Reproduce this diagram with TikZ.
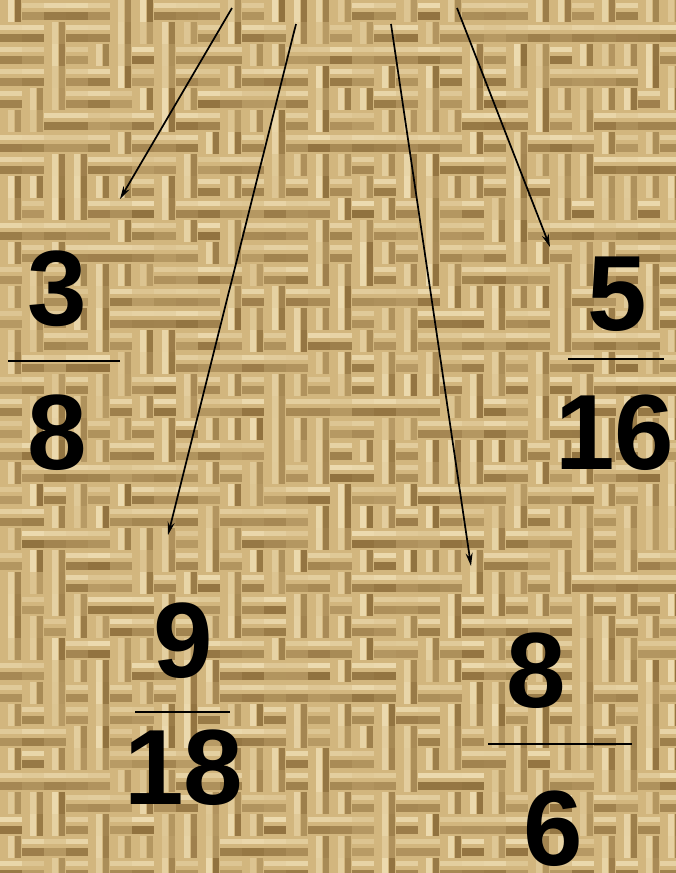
\documentclass[tikz,border=0pt]{standalone}
\usepackage{fontspec}
\setmainfont{Liberation Sans}
\usepackage{tikz}
\usetikzlibrary{arrows.meta,positioning,calc}
\definecolor{burlap}{HTML}{D2B67E}
\definecolor{weavedark}{HTML}{6E4E1E}
\definecolor{weavelite}{HTML}{FBEFCB}

\begin{document}
\begin{tikzpicture}[x=1pt, y=-1pt,
  num/.style={inner sep=0pt, font=\fontsize{107}{107}\selectfont\bfseries},
  bar/.style={line width=2pt},
  pointer/.style={line width=1.7pt, -{Stealth[length=13pt,width=7pt]}}]
  \useasboundingbox (0,0) rectangle (676,873);
  \clip (0,0) rectangle (676,873);
  % burlap background
  \fill[burlap] (0,0) rectangle (676,873);
  \pgfmathsetseed{11}
  \foreach \i in {0,...,30}{
    \foreach \j in {0,...,39}{
      \pgfmathsetmacro{\ra}{rnd}
      \pgfmathsetmacro{\op}{0.25+0.4*rnd}
      \ifdim\ra pt<0.55pt
        \fill[weavedark, opacity=\op] (\i*22,\j*22+12) rectangle ++(22,8);
        \fill[weavelite, opacity=\op] (\i*22,\j*22+3) rectangle ++(22,5);
      \else
        \fill[weavelite, opacity=\op] (\i*22+8,\j*22) rectangle ++(6,22);
        \fill[weavedark, opacity=\op] (\i*22+15,\j*22) rectangle ++(6,22);
      \fi
    }
  }

  % fractions
  \node[num] (n1) at (57,289) {3};
  \node[num] (d1) at (57,433) {8};
  \draw[bar] (8,361) -- (120,361);
  \node[num] (n2) at (617,294) {5};
  \node[num] (d2) at (615,433) {16};
  \draw[bar] (568,359) -- (664,359);
  \node[num] (n3) at (183,641) {9};
  \node[num] (d3) at (184,768) {18};
  \draw[bar] (135,712) -- (230,712);
  \node[num] (n4) at (536,671) {8};
  \node[num] (d4) at (553,829) {6};
  \draw[bar] (488,744) -- (632,744);

  % arrows
  \coordinate (s1) at (232,8);   \coordinate (e1) at (120,199);
  \coordinate (s2) at (296,24);  \coordinate (e2) at (168,535);
  \coordinate (s3) at (391,24);  \coordinate (e3) at (471,566);
  \coordinate (s4) at (457,8);   \coordinate (e4) at (550,247);
  \foreach \k in {1,...,4}
    \draw[pointer] (s\k) -- (e\k);
\end{tikzpicture}
\end{document}
